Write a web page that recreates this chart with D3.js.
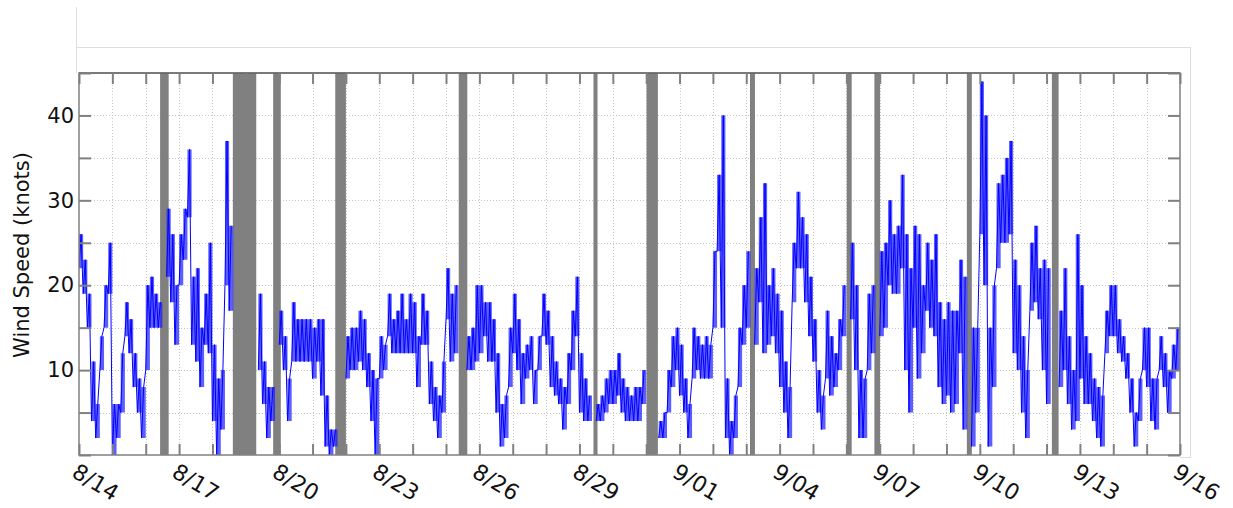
<!DOCTYPE html>
<html>
<head>
<meta charset="utf-8">
<script src="https://cdn.jsdelivr.net/npm/d3@7"></script>
<style>
  body { margin: 0; background: #fff; }
  svg { display: block; font-family: "DejaVu Sans", Verdana, sans-serif; }
</style>
</head>
<body>
<div id="chart"></div>
<script>
// wind speed, 3-hour bins from 8/14 00:00 (low / high reading in each bin), null = no data
var speedLo = [
  22, 19, 15, 4, 2, 10, 15, 19,         // 8/14
  0, 2, 5, 14, 12, 8, 5, 2,             // 8/15
  10, 15, 15, 15, null, 21, 18, 13,     // 8/16
  20, 23, 28, 13, 11, 8, 13, 12,        // 8/17
  4, 0, 3, 20, 17, null, null, null,    // 8/18
  null, null, null, 10, 6, 2, 4, null,  // 8/19
  13, 10, 4, 11, 11, 11, 11, 11,        // 8/20
  9, 11, 7, 1, 0, 1, null, null,        // 8/21
  9, 10, 10, 11, 10, 8, 4, 0,           // 8/22
  9, 10, 14, 12, 12, 12, 12, 12,        // 8/23
  12, 8, 13, 13, 6, 4, 2, 5,            // 8/24
  16, 11, 12, null, null, 10, 10, 11,   // 8/25
  12, 14, 11, 11, 5, 1, 2, 8,           // 8/26
  12, 10, 6, 9, 10, 6, 10, 14,          // 8/27
  13, 8, 7, 6, 3, 6, 10, 14,            // 8/28
  5, 4, 4, null, 4, 4, 5, 6,            // 8/29
  6, 7, 5, 4, 4, 4, 4, 6,               // 8/30
  null, null, null, 2, 2, 5, 8, 10,     // 8/31
  7, 5, 2, 9, 10, 9, 9, 9,              // 9/01
  15, 24, 15, 2, 0, 2, 8, 13,           // 9/02
  15, null, 13, 18, 12, 13, 14, 12,     // 9/03
  8, 5, 2, 18, 22, 22, 18, 14,          // 9/04
  11, 5, 3, 9, 7, 8, 10, 14,            // 9/05
  null, 16, 10, 2, 2, 10, 12, null,     // 9/06
  14, 15, 20, 19, 19, 22, 10, 5,        // 9/07
  15, 9, 12, 17, 15, 14, 8, 6,          // 9/08
  7, 5, 6, 12, 3, null, 1, 5,           // 9/09
  26, 20, 1, 8, 22, 25, 25, 26,         // 9/10
  12, 10, 5, 2, 17, 18, 16, 10,         // 9/11
  6, null, null, 8, 10, 6, 3, 4,        // 9/12
  9, 6, 6, 4, 2, 1, 12, 14,             // 9/13
  14, 12, 11, 9, 5, 1, 4, 10,           // 9/14
  8, 4, 3, 10, 8, 5, 9, 10              // 9/15
];
var speedHi = [
  26, 23, 19, 11, 6, 14, 20, 25,        // 8/14
  6, 6, 12, 18, 16, 12, 9, 8,           // 8/15
  20, 21, 19, 18, null, 29, 26, 20,     // 8/16
  26, 29, 36, 21, 22, 15, 19, 25,       // 8/17
  13, 9, 10, 37, 27, null, null, null,  // 8/18
  null, null, null, 19, 11, 8, 8, null, // 8/19
  17, 14, 9, 18, 16, 16, 16, 16,        // 8/20
  15, 16, 16, 7, 3, 3, null, null,      // 8/21
  14, 15, 15, 17, 16, 12, 10, 9,        // 8/22
  14, 13, 19, 16, 17, 19, 16, 19,       // 8/23
  18, 14, 19, 17, 11, 8, 7, 11,         // 8/24
  22, 19, 20, null, null, 14, 15, 20,   // 8/25
  20, 18, 18, 16, 12, 6, 7, 15,         // 8/26
  19, 16, 12, 13, 14, 10, 14, 19,       // 8/27
  17, 14, 11, 9, 8, 12, 17, 21,         // 8/28
  12, 9, 7, null, 6, 7, 9, 10,          // 8/29
  10, 12, 9, 8, 7, 8, 8, 10,            // 8/30
  null, null, null, 4, 5, 10, 14, 15,   // 8/31
  13, 9, 6, 15, 14, 13, 14, 13,         // 9/01
  24, 33, 40, 9, 4, 7, 15, 20,          // 9/02
  24, null, 22, 28, 32, 20, 22, 19,     // 9/03
  17, 11, 8, 25, 31, 28, 26, 21,        // 9/04
  16, 10, 7, 17, 14, 12, 16, 20,        // 9/05
  null, 25, 20, 10, 9, 19, 20, null,    // 9/06
  24, 25, 30, 26, 27, 33, 26, 22,       // 9/07
  27, 26, 20, 25, 23, 26, 18, 16,       // 9/08
  18, 17, 17, 23, 21, null, 15, 15,     // 9/09
  44, 40, 15, 20, 32, 33, 35, 37,       // 9/10
  23, 20, 14, 10, 25, 27, 22, 23,       // 9/11
  22, null, null, 17, 22, 14, 10, 26,   // 9/12
  20, 14, 12, 9, 8, 7, 17, 20,          // 9/13
  20, 16, 14, 12, 9, 5, 9, 15,          // 9/14
  15, 9, 9, 14, 12, 10, 13, 15          // 9/15
];

// periods with no data (grey bars)
var gapStart = ["08/16 10:20", "08/18 14:40", "08/19 19:40", "08/21 16:20", "08/25 09:10", "08/29 10:05",
                "08/31 00:15", "09/03 02:40", "09/06 00:15", "09/06 20:10", "09/09 14:40", "09/12 03:50"];
var gapEnd   = ["08/16 16:30", "08/19 07:30", "08/20 01:10", "08/22 00:00", "08/25 15:20", "08/29 13:00",
                "08/31 08:25", "09/03 06:15", "09/06 03:50", "09/07 00:15", "09/09 18:15", "09/12 08:40"];

var firstDay = "08/14 00:00";
var lastDay = "09/16 00:00";
var yTicks = [0, 5, 10, 15, 20, 25, 30, 35, 40, 45];
var yLabels = [10, 20, 30, 40];

var width = 1233;
var height = 508;
var plotL = 79, plotR = 1180, plotT = 73, plotB = 455;

var parse = d3.utcParse("%m/%d %H:%M");
var fmt = d3.utcFormat("%-m/%d");

var x = d3.scaleUtc()
    .domain([parse(firstDay), parse(lastDay)])
    .range([plotL, plotR]);

var y = d3.scaleLinear()
    .domain([0, 45])
    .range([plotB, plotT]);

var svg = d3.select("#chart")
    .append("svg")
    .attr("width", width)
    .attr("height", height);

svg.append("rect").attr("width", width).attr("height", height).attr("fill", "#fff");

// light panel borders from the surrounding figure
svg.append("path")
    .attr("d", "M76.5,7V73 M76,47.5H1190.5 M1190.5,47V457.5 M1180,457.5H1190.5")
    .attr("fill", "none")
    .attr("stroke", "#dedede")
    .attr("stroke-width", 1);

// build point lists: zigzag low/high for the line, bin edges for the band
var start = parse(firstDay);
var points = [];
var bins = [];
speedLo.forEach(function (lo, i) {
    var t0 = d3.utcHour.offset(start, 3 * i);
    var t1 = d3.utcHour.offset(start, 3 * i + 3);
    points.push({ t: t0, v: lo });
    points.push({ t: d3.utcMinute.offset(t0, 90), v: speedHi[i] });
    bins.push({ t: t0, lo: lo, hi: speedHi[i] });
    bins.push({ t: t1, lo: lo, hi: speedHi[i] });
});

var days = d3.utcDay.range(parse(firstDay), d3.utcHour.offset(parse(lastDay), 1));

// grid
var grid = svg.append("g")
    .attr("stroke", "#c4c4c4")
    .attr("stroke-width", 1)
    .attr("stroke-dasharray", "1,2");

grid.selectAll(null)
    .data(days.slice(1, -1))
    .enter()
    .append("line")
    .attr("x1", function (d) { return Math.round(x(d)) + 0.5; })
    .attr("x2", function (d) { return Math.round(x(d)) + 0.5; })
    .attr("y1", plotT)
    .attr("y2", plotB);

grid.selectAll(null)
    .data(yTicks.slice(1, -1))
    .enter()
    .append("line")
    .attr("x1", plotL)
    .attr("x2", plotR)
    .attr("y1", function (d) { return Math.round(y(d)) + 0.5; })
    .attr("y2", function (d) { return Math.round(y(d)) + 0.5; });

// no-data bars
svg.append("g")
    .selectAll("rect")
    .data(gapStart.map(function (s, i) { return [parse(s), parse(gapEnd[i])]; }))
    .enter()
    .append("rect")
    .attr("x", function (d) { return x(d[0]); })
    .attr("width", function (d) { return x(d[1]) - x(d[0]); })
    .attr("y", plotT)
    .attr("height", plotB - plotT)
    .attr("fill", "#808080");

// wind speed band + line
svg.append("clipPath").attr("id", "clip")
    .append("rect").attr("x", plotL).attr("y", plotT).attr("width", plotR - plotL).attr("height", plotB - plotT);

var band = d3.area()
    .defined(function (d) { return d.lo !== null; })
    .x(function (d) { return x(d.t); })
    .y0(function (d) { return y(d.lo); })
    .y1(function (d) { return y(d.hi); });

svg.append("path")
    .datum(bins)
    .attr("clip-path", "url(#clip)")
    .attr("d", band)
    .attr("fill", "#1a1aff")
    .attr("fill-opacity", 0.7);

var line = d3.line()
    .defined(function (d) { return d.v !== null; })
    .x(function (d) { return x(d.t); })
    .y(function (d) { return y(d.v); });

svg.append("path")
    .datum(points)
    .attr("clip-path", "url(#clip)")
    .attr("d", line)
    .attr("fill", "none")
    .attr("stroke", "#0000ff")
    .attr("stroke-width", 1);

// frame
svg.append("rect")
    .attr("x", plotL).attr("y", plotT)
    .attr("width", plotR - plotL).attr("height", plotB - plotT)
    .attr("fill", "none")
    .attr("stroke", "#808080")
    .attr("stroke-width", 1.5);
svg.append("line")
    .attr("x1", plotL).attr("x2", plotR).attr("y1", plotT).attr("y2", plotT)
    .attr("stroke", "#555").attr("stroke-width", 1);

// axes
function styleAxis(g) {
    g.select(".domain").remove();
    g.selectAll(".tick line").attr("stroke", "#808080").attr("stroke-width", 2);
}

var xBottom = svg.append("g")
    .attr("transform", "translate(0," + plotB + ")")
    .call(d3.axisBottom(x)
        .tickValues(days)
        .tickSizeInner(-11)
        .tickSizeOuter(0)
        .tickFormat(function (d, i) { return i % 3 === 0 ? fmt(d) : ""; }))
    .call(styleAxis);

xBottom.selectAll(".tick text")
    .attr("y", null)
    .attr("dy", null)
    .attr("text-anchor", "start")
    .attr("transform", "translate(-9,21) rotate(31)")
    .attr("font-size", 22)
    .attr("font-family", "DejaVu Sans, Verdana, sans-serif")
    .attr("fill", "#111");

svg.append("g")
    .attr("transform", "translate(0," + plotT + ")")
    .call(d3.axisTop(x).tickValues(days).tickSizeInner(-11).tickSizeOuter(0).tickFormat(""))
    .call(styleAxis);

svg.append("g")
    .attr("transform", "translate(" + plotL + ",0)")
    .call(d3.axisLeft(y)
        .tickValues(yTicks)
        .tickSizeInner(-12)
        .tickSizeOuter(0)
        .tickPadding(5)
        .tickFormat(function (d) { return yLabels.indexOf(d) >= 0 ? d : ""; }))
    .call(styleAxis)
    .selectAll(".tick text")
    .attr("font-size", 21)
    .attr("font-family", "DejaVu Sans, Verdana, sans-serif")
    .attr("fill", "#111");

svg.append("g")
    .attr("transform", "translate(" + plotR + ",0)")
    .call(d3.axisRight(y).tickValues(yTicks).tickSizeInner(-12).tickSizeOuter(0).tickFormat(""))
    .call(styleAxis);

// y axis title
svg.append("text")
    .attr("transform", "translate(29,255) rotate(-90)")
    .attr("text-anchor", "middle")
    .attr("font-size", 21)
    .attr("fill", "#111")
    .text("Wind Speed (knots)");
</script>
</body>
</html>
